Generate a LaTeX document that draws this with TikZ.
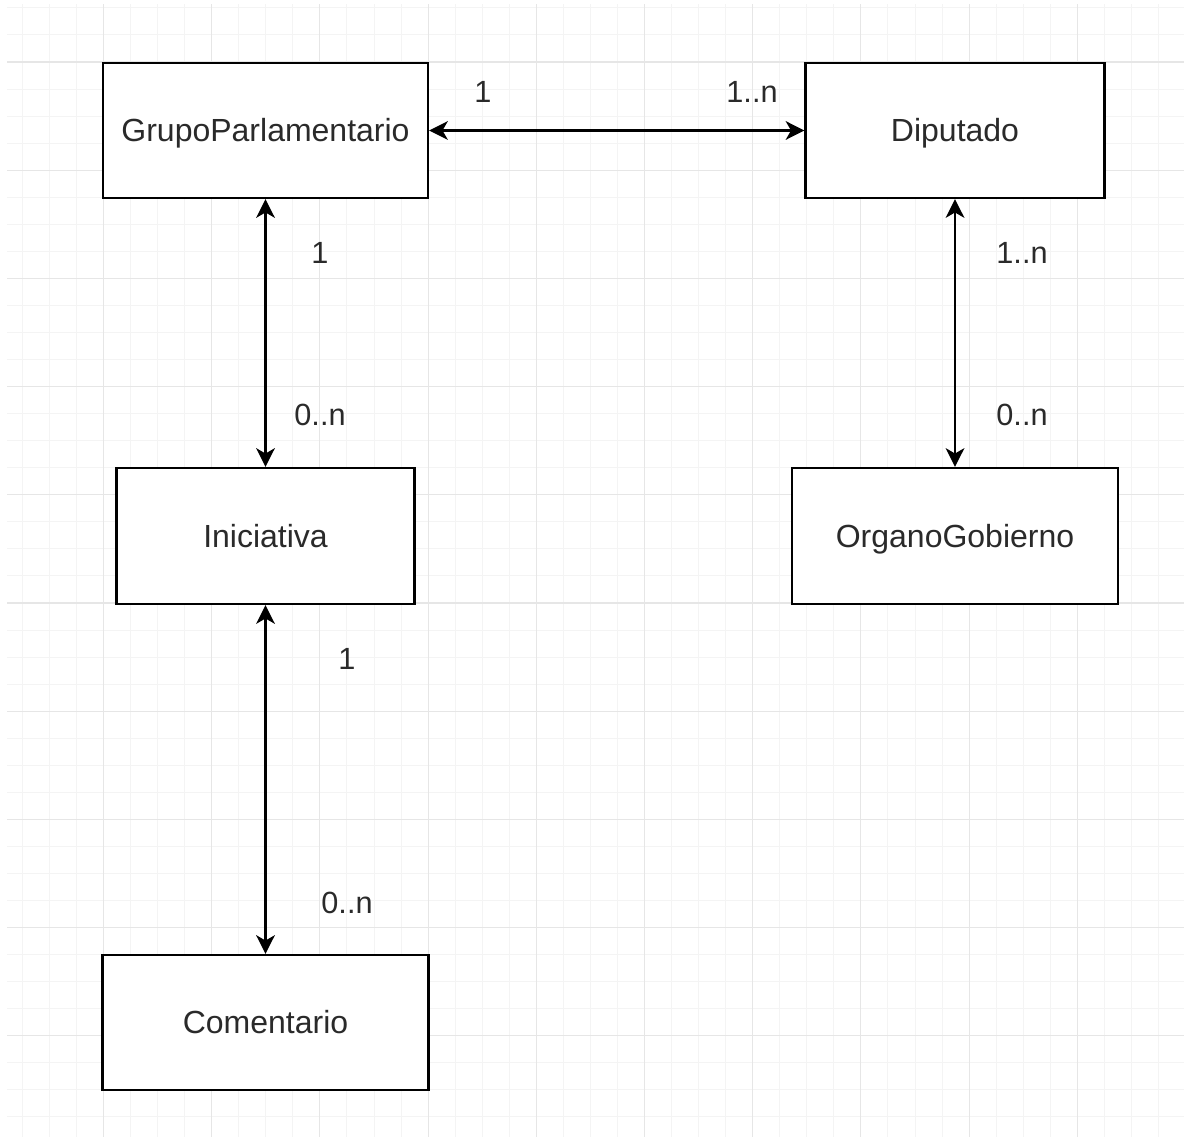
\documentclass[tikz,border=0pt]{standalone}
\usepackage{fontspec}
\setmainfont{Liberation Sans}
\usetikzlibrary{arrows.meta}
\definecolor{majorgrid}{HTML}{E6E6E6}
\definecolor{minorgrid}{HTML}{F4F4F4}
\definecolor{txt}{HTML}{2A2A2A}
\tikzset{
  entity/.style={draw=black, line width=1.7pt, fill=white, inner sep=0pt, text=txt, font=\fontsize{24}{28}\selectfont, text height=17pt, text depth=0pt},
  mult/.style={text=txt, font=\fontsize{23}{27}\selectfont, inner sep=0pt},
  assoc/.style={line width=1.8pt, {Stealth[length=14pt,width=14pt,inset=4pt]}-{Stealth[length=14pt,width=14pt,inset=4pt]}},
}
\begin{document}
\begin{tikzpicture}[x=0.75pt,y=-0.75pt]
\useasboundingbox (0,0) rectangle (1184,1137);
\fill[white] (0,0) rectangle (1184,1137);
\begin{scope}
\clip (7,5) rectangle (1184,1137);
\foreach \i in {-4,...,40} {
  \draw[minorgrid, line width=0.75pt] ({103.5+27.05*\i},0) -- ({103.5+27.05*\i},1137);
  \draw[minorgrid, line width=0.75pt] (0,{62+27.05*\i}) -- (1184,{62+27.05*\i});
}
\foreach \i in {-1,...,10} {
  \draw[majorgrid, line width=0.8pt] ({103.5+108.2*\i},0) -- ({103.5+108.2*\i},1137);
  \draw[majorgrid, line width=0.8pt] (0,{62+108.2*\i}) -- (1184,{62+108.2*\i});
}
\end{scope}

\node[entity, minimum width=325*0.75pt, minimum height=135*0.75pt] (gp) at (265.5,130.5) {GrupoParlamentario};
\node[entity, minimum width=299*0.75pt, minimum height=135*0.75pt] (dip) at (955,130.5) {Diputado};
\node[entity, minimum width=298*0.75pt, minimum height=136*0.75pt] (ini) at (265.5,536) {Iniciativa};
\node[entity, minimum width=326*0.75pt, minimum height=136*0.75pt] (org) at (955,536) {OrganoGobierno};
\node[entity, minimum width=326*0.75pt, minimum height=135*0.75pt] (com) at (265.5,1022.5) {Comentario};

\draw[assoc] (gp.east) -- (dip.west);
\draw[assoc] (gp.south) -- (ini.north);
\draw[assoc] (dip.south) -- (org.north);
\draw[assoc] (ini.south) -- (com.north);

\node[mult] (m1) at (483,92) {1};
\node[mult] (m2) at (752,92) {1..n};
\node[mult] (m3) at (320,253) {1};
\node[mult] (m4) at (320,415) {0..n};
\node[mult] (m5) at (1022,253) {1..n};
\node[mult] (m6) at (1022,415) {0..n};
\node[mult] (m7) at (347,659) {1};
\node[mult] (m8) at (347,903) {0..n};
\end{tikzpicture}
\end{document}
